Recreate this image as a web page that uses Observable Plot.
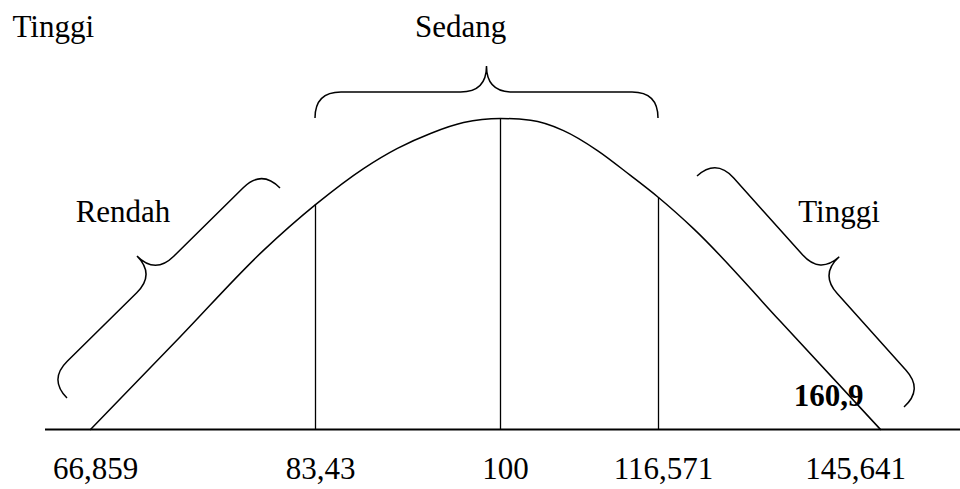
<!DOCTYPE html>
<html>
<head>
<meta charset="utf-8">
<script src="https://cdn.jsdelivr.net/npm/d3@7"></script>
<script src="https://cdn.jsdelivr.net/npm/@observablehq/plot@0.6"></script>
<style>
  html, body { margin: 0; padding: 0; background: #fff; }
  #chart svg { display: block; background: #fff; }
</style>
</head>
<body>
<div id="chart"></div>
<script>
// ---- data ----
const tickValues = [66.859, 83.43, 100, 116.571, 145.641];
const tickLabels = ["66,859", "83,43", "100", "116,571", "145,641"];

// bell curve: score value, relative height (peak = 1)
const curveX = [66.859, 73.487, 79.600, 83.43, 87.73, 90.77, 93.73, 96.69, 100,
                103.15, 106.61, 110.17, 113.63, 116.571, 121.15, 132.55, 145.641];
const curveH = [0, 0.299, 0.576, 0.723, 0.839, 0.904, 0.952, 0.987, 1,
                0.994, 0.961, 0.897, 0.817, 0.746, 0.646, 0.347, 0];

const categoryNames = ["Rendah", "Sedang", "Tinggi"];
const extraLabel = "160,9";
const cornerLabel = "Tinggi";

// ---- layout options built from the above ----
const curve = curveX.map((x, i) => ({x, h: curveH[i]}));
const heightAt = v => curve.find(d => d.x === v).h;
const dividers = tickValues.slice(1, 4).map(v => ({x: v, h: heightAt(v)}));

const xOpts = {type: "linear", domain: tickValues, range: [90, 315, 500, 658, 880], axis: null};
const yOpts = {type: "linear", domain: [0, 1], range: [429, 118], axis: null};

// braces (start / end in chart units; bulge toward the outside of the curve)
const braces = [
  {x1: 65.165, y1: 0.0997, x2: 80.852, y2: 0.775},   // Rendah
  {x1: 83.43, y1: 1.0, x2: 116.571, y2: 1.0},         // Sedang
  {x1: 121.678, y1: 0.8135, x2: 148.784, y2: 0.0707}  // Tinggi
];

const labels = [
  {text: cornerLabel, x: 61.114, y: 1.2605, anchor: "start"},
  {text: categoryNames[1], x: 96.42, y: 1.2605, anchor: "middle"},
  {text: categoryNames[0], x: 69.253, y: 0.6656, anchor: "middle"},
  {text: categoryNames[2], x: 140.207, y: 0.6688, anchor: "middle"}
];

const FONT = "'Liberation Serif', 'Times New Roman', serif";
const FS = 31;

function bracePath(P1, P2, h, r) {
  const dx = P2[0] - P1[0], dy = P2[1] - P1[1];
  const L = Math.hypot(dx, dy);
  const t = [dx / L, dy / L];
  const n = [t[1], -t[0]];
  const M = [(P1[0] + P2[0]) / 2, (P1[1] + P2[1]) / 2];
  const add = (p, a, b) => [p[0] + n[0] * a + t[0] * b, p[1] + n[1] * a + t[1] * b];
  const f = p => p[0].toFixed(2) + "," + p[1].toFixed(2);
  return "M" + f(P1) +
    "Q" + f(add(P1, h, 0)) + " " + f(add(P1, h, r)) +
    "L" + f(add(M, h, -r)) +
    "Q" + f(add(M, h, 0)) + " " + f(add(M, 2 * h, 0)) +
    "Q" + f(add(M, h, 0)) + " " + f(add(M, h, r)) +
    "L" + f(add(P2, h, -r)) +
    "Q" + f(add(P2, h, 0)) + " " + f(P2);
}

const xScale = Plot.scale({x: xOpts});
const yScale = Plot.scale({y: yOpts});

function braceMark(index, scales) {
  const X = (scales && scales.x) || (v => xScale.apply(v));
  const Y = (scales && scales.y) || (v => yScale.apply(v));
  const g = d3.create("svg:g")
    .attr("fill", "none").attr("stroke", "#000").attr("stroke-width", 1.5);
  for (const b of braces) {
    g.append("path").attr("d", bracePath([X(b.x1), Y(b.y1)], [X(b.x2), Y(b.y2)], 26, 26));
  }
  return g.node();
}

const plot = Plot.plot({
  width: 960,
  height: 489,
  marginLeft: 45,
  marginRight: 0,
  marginTop: 0,
  marginBottom: 0,
  x: xOpts,
  y: yOpts,
  style: {fontFamily: FONT, fontSize: FS + "px", background: "#fff", color: "#000"},
  marks: [
    Plot.ruleY([0], {stroke: "#000", strokeWidth: 2}),
    Plot.ruleX(dividers, {x: "x", y1: 0, y2: "h", stroke: "#000", strokeWidth: 1.3}),
    Plot.line(curve, {x: "x", y: "h", curve: "monotone-x", stroke: "#000", strokeWidth: 1.5}),
    braceMark,
    Plot.text(labels.filter(d => d.anchor === "start"), {x: "x", y: "y", text: "text", textAnchor: "start", lineAnchor: "bottom", fontSize: FS, fontFamily: FONT, fill: "#000"}),
    Plot.text(labels.filter(d => d.anchor === "middle"), {x: "x", y: "y", text: "text", textAnchor: "middle", lineAnchor: "bottom", fontSize: FS, fontFamily: FONT, fill: "#000"}),
    Plot.text([extraLabel], {x: 138.832, y: 0.074, text: d => d, textAnchor: "middle", lineAnchor: "bottom", fontSize: FS, fontWeight: "bold", fontFamily: FONT, fill: "#000"}),
    Plot.text(tickValues.slice(0, 4), {x: d => d, y: 0, text: (d, i) => tickLabels[i], dx: 5, dy: 49, textAnchor: "middle", lineAnchor: "bottom", fontSize: FS, fontFamily: FONT, fill: "#000"}),
    Plot.text(tickValues.slice(4), {x: d => d, y: 0, text: (d, i) => tickLabels[4 + i], dx: -25, dy: 49, textAnchor: "middle", lineAnchor: "bottom", fontSize: FS, fontFamily: FONT, fill: "#000"})
  ]
});

document.getElementById("chart").appendChild(plot);
</script>
</body>
</html>
